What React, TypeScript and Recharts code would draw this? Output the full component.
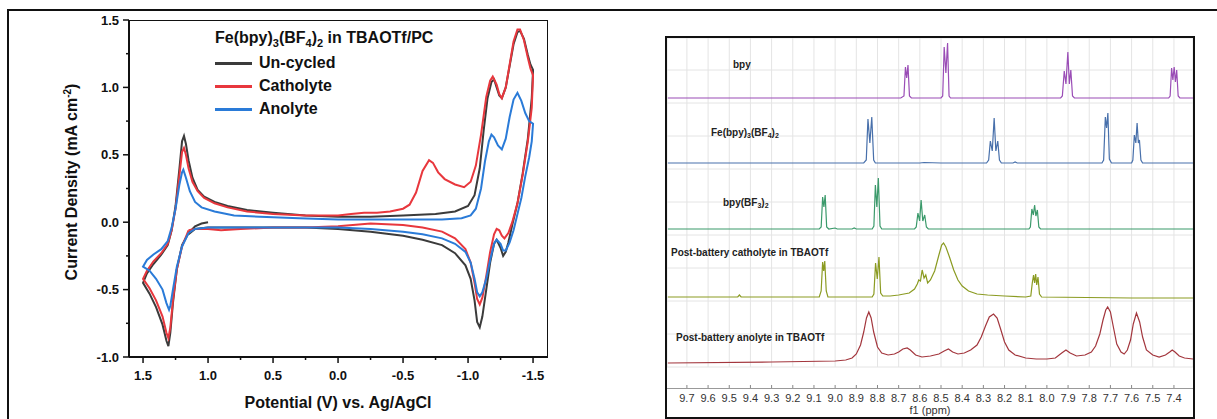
import { CartesianGrid, Line, LineChart, XAxis, YAxis } from "recharts";

type Pt = [number, number];

// cyclic voltammograms, [potential V, current density mA cm-2] in scan order
const uncycled: Pt[] = [
  [1.0, 0.0], [1.05, -0.01], [1.1, -0.03], [1.15, -0.08], [1.2, -0.17], [1.24, -0.35],
  [1.27, -0.6], [1.29, -0.82], [1.305, -0.92], [1.32, -0.88], [1.35, -0.76], [1.4, -0.63],
  [1.45, -0.53], [1.5, -0.45], [1.47, -0.38], [1.42, -0.31], [1.36, -0.24], [1.31, -0.17],
  [1.28, -0.06], [1.25, 0.12], [1.22, 0.4], [1.2, 0.6], [1.185, 0.64], [1.17, 0.58],
  [1.15, 0.46], [1.12, 0.33], [1.08, 0.24], [1.03, 0.19], [0.95, 0.15], [0.85, 0.12],
  [0.7, 0.09], [0.5, 0.07], [0.25, 0.05], [0.0, 0.04], [-0.25, 0.04], [-0.5, 0.05],
  [-0.75, 0.06], [-0.9, 0.08], [-1.0, 0.12], [-1.05, 0.2], [-1.09, 0.4], [-1.12, 0.68],
  [-1.15, 0.92], [-1.18, 1.04], [-1.2, 1.06], [-1.22, 1.0], [-1.24, 0.94], [-1.26, 0.92],
  [-1.29, 1.0], [-1.32, 1.16], [-1.35, 1.32], [-1.38, 1.41], [-1.4, 1.42], [-1.43, 1.36],
  [-1.46, 1.24], [-1.48, 1.17], [-1.5, 1.13], [-1.49, 0.92], [-1.46, 0.62], [-1.42, 0.36],
  [-1.38, 0.14], [-1.34, -0.02], [-1.31, -0.15], [-1.29, -0.22], [-1.27, -0.25],
  [-1.25, -0.19], [-1.22, -0.13], [-1.2, -0.16], [-1.17, -0.3], [-1.14, -0.5], [-1.11, -0.7],
  [-1.09, -0.78], [-1.07, -0.74], [-1.05, -0.58], [-1.02, -0.42], [-0.98, -0.32],
  [-0.9, -0.23], [-0.8, -0.17], [-0.65, -0.13], [-0.5, -0.1], [-0.25, -0.07], [0.0, -0.05],
  [0.25, -0.04], [0.5, -0.04], [0.75, -0.04], [1.0, -0.04], [1.1, -0.05], [1.15, -0.09]
];

const catholyte: Pt[] = [
  [1.15, -0.06], [1.2, -0.18], [1.24, -0.35], [1.27, -0.58], [1.29, -0.78], [1.305, -0.86],
  [1.32, -0.82], [1.35, -0.7], [1.4, -0.58], [1.45, -0.49], [1.5, -0.42], [1.47, -0.36],
  [1.42, -0.29], [1.36, -0.23], [1.31, -0.16], [1.28, -0.06], [1.25, 0.1], [1.22, 0.35],
  [1.2, 0.52], [1.185, 0.55], [1.17, 0.5], [1.15, 0.4], [1.12, 0.3], [1.08, 0.23],
  [1.03, 0.18], [0.95, 0.14], [0.85, 0.11], [0.7, 0.08], [0.5, 0.06], [0.25, 0.05],
  [0.0, 0.05], [-0.1, 0.06], [-0.2, 0.07], [-0.3, 0.07], [-0.4, 0.08], [-0.5, 0.1],
  [-0.55, 0.13], [-0.6, 0.22], [-0.65, 0.38], [-0.7, 0.46], [-0.73, 0.44], [-0.77, 0.37],
  [-0.82, 0.32], [-0.9, 0.28], [-0.97, 0.26], [-1.02, 0.3], [-1.06, 0.42], [-1.1, 0.65],
  [-1.14, 0.93], [-1.17, 1.05], [-1.19, 1.08], [-1.22, 1.02], [-1.24, 0.95], [-1.26, 0.92],
  [-1.29, 1.0], [-1.32, 1.17], [-1.35, 1.34], [-1.38, 1.43], [-1.4, 1.43], [-1.43, 1.35],
  [-1.46, 1.22], [-1.48, 1.14], [-1.5, 1.09], [-1.49, 0.85], [-1.46, 0.6], [-1.42, 0.35],
  [-1.38, 0.14], [-1.34, 0.0], [-1.31, -0.08], [-1.28, -0.12], [-1.26, -0.1],
  [-1.24, -0.06], [-1.22, -0.05], [-1.2, -0.09], [-1.17, -0.22], [-1.14, -0.4],
  [-1.11, -0.56], [-1.09, -0.61], [-1.07, -0.57], [-1.05, -0.45], [-1.02, -0.3],
  [-0.98, -0.2], [-0.9, -0.12], [-0.8, -0.07], [-0.65, -0.04], [-0.5, -0.02], [-0.25, -0.01],
  [0.0, -0.03], [0.25, -0.04], [0.5, -0.04], [0.75, -0.05], [0.9, -0.06], [1.0, -0.05],
  [1.1, -0.05], [1.15, -0.06]
];

const anolyte: Pt[] = [
  [1.15, -0.08], [1.2, -0.18], [1.24, -0.33], [1.27, -0.5], [1.29, -0.62], [1.3, -0.65],
  [1.32, -0.6], [1.35, -0.5], [1.4, -0.42], [1.45, -0.36], [1.5, -0.33], [1.47, -0.28],
  [1.42, -0.24], [1.36, -0.2], [1.31, -0.14], [1.28, -0.04], [1.25, 0.1], [1.22, 0.28],
  [1.2, 0.37], [1.19, 0.39], [1.17, 0.33], [1.14, 0.23], [1.1, 0.15], [1.05, 0.11],
  [0.95, 0.08], [0.8, 0.05], [0.6, 0.04], [0.3, 0.03], [0.0, 0.02], [-0.5, 0.02],
  [-0.8, 0.02], [-0.95, 0.03], [-1.02, 0.05], [-1.06, 0.1], [-1.1, 0.25], [-1.13, 0.45],
  [-1.16, 0.6], [-1.18, 0.65], [-1.2, 0.63], [-1.23, 0.57], [-1.26, 0.54], [-1.29, 0.62],
  [-1.32, 0.78], [-1.35, 0.91], [-1.38, 0.96], [-1.41, 0.9], [-1.44, 0.81], [-1.47, 0.75],
  [-1.5, 0.73], [-1.49, 0.6], [-1.47, 0.48], [-1.44, 0.34], [-1.41, 0.18], [-1.38, 0.06],
  [-1.35, -0.06], [-1.32, -0.15], [-1.29, -0.21], [-1.27, -0.21], [-1.25, -0.16],
  [-1.22, -0.13], [-1.2, -0.16], [-1.17, -0.28], [-1.14, -0.42], [-1.11, -0.52],
  [-1.09, -0.55], [-1.07, -0.52], [-1.05, -0.42], [-1.02, -0.3], [-0.98, -0.22],
  [-0.9, -0.16], [-0.8, -0.12], [-0.65, -0.09], [-0.5, -0.07], [-0.25, -0.05], [0.0, -0.04],
  [0.5, -0.04], [1.0, -0.04], [1.1, -0.05], [1.15, -0.08]
];

const potentialTicks = [1.5, 1.25, 1.0, 0.75, 0.5, 0.25, 0, -0.25, -0.5, -0.75, -1.0, -1.25, -1.5];
const currentTicks = [-1.0, -0.75, -0.5, -0.25, 0, 0.25, 0.5, 0.75, 1.0, 1.25, 1.5];

// 1H NMR traces, [ppm, intensity] left to right
const bpySpec: Pt[] = [
  [9.79, 0], [8.69, 0], [8.675, 2], [8.668, 31], [8.662, 20], [8.656, 33], [8.649, 2], [8.64, 0],
  [8.5, 0], [8.492, 2], [8.485, 51], [8.477, 25], [8.469, 55], [8.462, 2], [8.455, 0],
  [7.935, 0], [7.927, 2], [7.918, 27], [7.91, 14], [7.901, 46], [7.894, 14], [7.887, 28],
  [7.879, 2], [7.87, 0], [7.425, 0], [7.418, 2], [7.411, 30], [7.405, 18], [7.399, 31],
  [7.393, 16], [7.387, 28], [7.38, 2], [7.372, 0], [7.31, 0]
];

const feSpec: Pt[] = [
  [9.79, 0], [8.865, 0], [8.853, 3], [8.845, 44], [8.836, 20], [8.827, 46], [8.818, 3],
  [8.81, 0], [8.6, 0], [8.58, 0.5], [8.5, 0], [8.285, 0], [8.275, 3], [8.267, 22],
  [8.258, 12], [8.249, 45], [8.241, 12], [8.232, 22], [8.224, 3], [8.215, 0], [8.16, 0],
  [8.15, 1], [8.14, 0], [7.74, 0], [7.732, 3], [7.724, 46], [7.718, 35], [7.712, 50],
  [7.705, 4], [7.695, 0], [7.6, 0], [7.594, 3], [7.587, 28], [7.58, 20], [7.574, 40],
  [7.568, 20], [7.563, 23], [7.556, 3], [7.548, 0], [7.31, 0]
];

const bf3Spec: Pt[] = [
  [9.79, 0], [9.075, 0], [9.066, 2], [9.059, 32], [9.053, 22], [9.047, 34], [9.04, 2],
  [9.03, 0], [9.0, 1], [8.99, 0], [8.92, 0], [8.91, 1], [8.9, 0], [8.825, 0], [8.817, 3],
  [8.81, 44], [8.803, 22], [8.796, 51], [8.788, 3], [8.78, 0], [8.625, 0], [8.617, 2],
  [8.609, 16], [8.601, 8], [8.594, 29], [8.586, 8], [8.577, 14], [8.569, 2], [8.56, 0],
  [8.085, 0], [8.078, 2], [8.071, 20], [8.064, 14], [8.058, 24], [8.052, 13], [8.045, 19],
  [8.038, 2], [8.03, 0], [7.31, 0]
];

const catholyteSpec: Pt[] = [
  [9.79, 0], [9.46, 0], [9.452, 2], [9.444, 0], [9.075, 0], [9.066, 6], [9.059, 35],
  [9.054, 26], [9.049, 36], [9.042, 6], [9.034, 0], [8.825, 0], [8.817, 3], [8.809, 34],
  [8.801, 18], [8.793, 40], [8.785, 4], [8.775, 1], [8.74, 1], [8.7, 2], [8.65, 4],
  [8.625, 8], [8.612, 13], [8.605, 17], [8.597, 16], [8.589, 27], [8.58, 19], [8.572, 22],
  [8.563, 14], [8.55, 17], [8.53, 26], [8.51, 42], [8.497, 52], [8.488, 54], [8.477, 50],
  [8.46, 40], [8.44, 27], [8.42, 17], [8.4, 11], [8.37, 6], [8.33, 3], [8.28, 2], [8.2, 1],
  [8.1, 0], [8.076, 1], [8.069, 14], [8.063, 22], [8.058, 14], [8.053, 23], [8.048, 12],
  [8.042, 20], [8.035, 3], [8.025, 0], [7.6, -1], [7.31, -1]
];

const anolyteSpec: Pt[] = [
  [9.79, -1], [9.3, 0], [9.0, 1], [8.95, 2], [8.92, 4], [8.9, 8], [8.88, 17], [8.865, 30],
  [8.852, 44], [8.841, 50], [8.83, 44], [8.818, 30], [8.8, 15], [8.78, 9], [8.75, 7],
  [8.72, 8], [8.7, 10], [8.68, 13], [8.66, 14], [8.645, 12], [8.62, 7], [8.59, 5], [8.55, 6],
  [8.51, 8], [8.485, 11], [8.465, 13], [8.445, 10], [8.42, 8], [8.39, 9], [8.36, 12],
  [8.33, 17], [8.31, 25], [8.29, 36], [8.272, 45], [8.252, 48], [8.235, 44], [8.22, 34],
  [8.2, 20], [8.18, 12], [8.15, 7], [8.1, 4], [8.05, 3], [8.0, 3], [7.96, 4], [7.93, 9],
  [7.91, 12], [7.89, 9], [7.86, 6], [7.82, 7], [7.79, 10], [7.77, 16], [7.75, 28],
  [7.735, 42], [7.722, 52], [7.713, 55], [7.7, 50], [7.687, 36], [7.67, 18], [7.65, 10],
  [7.635, 8], [7.62, 12], [7.605, 22], [7.592, 38], [7.577, 49], [7.562, 40], [7.548, 25],
  [7.53, 12], [7.5, 7], [7.47, 5], [7.44, 7], [7.42, 10], [7.408, 12], [7.395, 10],
  [7.375, 6], [7.35, 4], [7.31, 3]
];

const ppmTicks = [
  9.7, 9.6, 9.5, 9.4, 9.3, 9.2, 9.1, 9.0, 8.9, 8.8, 8.7, 8.6, 8.5, 8.4, 8.3, 8.2, 8.1, 8.0,
  7.9, 7.8, 7.7, 7.6, 7.5, 7.4
];
const stackTicks = [0, 33, 66, 99, 132, 165, 198, 231, 264, 297];

const font = "Arial, 'Liberation Sans', sans-serif";

const cvSeries = [
  { name: "Un-cycled", color: "#3b3b3b", pts: uncycled },
  { name: "Catholyte", color: "#e8373d", pts: catholyte },
  { name: "Anolyte", color: "#2a7bd8", pts: anolyte }
];

// stacked traces: baseline offset within the panel
const nmrSeries = [
  { color: "#9a4db6", pts: bpySpec, offset: 269 },
  { color: "#4870ab", pts: feSpec, offset: 204 },
  { color: "#3b9a6b", pts: bf3Spec, offset: 138 },
  { color: "#8b9b22", pts: catholyteSpec, offset: 70 },
  { color: "#a3363d", pts: anolyteSpec, offset: 5 }
];

const isMajor = (v: number) => Math.abs(v * 2 - Math.round(v * 2)) < 1e-6;

function PotentialTick({ x, y, payload }: any) {
  const major = isMajor(payload.value);
  return (
    <g>
      <line x1={x} x2={x} y1={y} y2={y + (major ? 6 : 3)} stroke="#111" strokeWidth={1.5} />
      {major && (
        <text x={x} y={y + 18} textAnchor="middle" dominantBaseline="central"
          fontFamily={font} fontWeight="bold" fontSize={13} fill="#111">
          {payload.value.toFixed(1)}
        </text>
      )}
    </g>
  );
}

function CurrentTick({ x, y, payload }: any) {
  const major = isMajor(payload.value);
  return (
    <g>
      <line x1={x - (major ? 6 : 3)} x2={x} y1={y} y2={y} stroke="#111" strokeWidth={1.5} />
      {major && (
        <text x={x - 10} y={y} textAnchor="end" dominantBaseline="central"
          fontFamily={font} fontWeight="bold" fontSize={13} fill="#111">
          {payload.value.toFixed(1)}
        </text>
      )}
    </g>
  );
}

function PpmTick({ x, y, payload }: any) {
  return (
    <g>
      <line x1={x} x2={x} y1={y + 18} y2={y + 21} stroke="#888" />
      <text x={x} y={y + 31} textAnchor="middle" dominantBaseline="central"
        fontFamily={font} fontSize={11} fill="#333">
        {payload.value.toFixed(1)}
      </text>
    </g>
  );
}

const sub = { fontSize: 11, position: "relative", top: 4 } as const;
const subSmall = { fontSize: 7, position: "relative", top: 2 } as const;

function CvPanel() {
  return (
    <>
      <LineChart width={600} height={419} margin={{ top: 20, right: 52, bottom: 32, left: 89 }}
        style={{ position: "absolute", left: 0, top: 0 }}>
        <XAxis type="number" dataKey="v" domain={[-1.615, 1.608]} reversed ticks={potentialTicks}
          interval={0} height={30} tickSize={0} tickMargin={0} tickLine={false}
          axisLine={{ stroke: "#111", strokeWidth: 2 }} tick={(p: any) => <PotentialTick {...p} />} />
        <YAxis type="number" dataKey="i" domain={[-1, 1.5]} ticks={currentTicks} interval={0}
          width={40} tickSize={0} tickMargin={0} tickLine={false}
          axisLine={{ stroke: "#111", strokeWidth: 2 }} tick={(p: any) => <CurrentTick {...p} />} />
        {cvSeries.map((s) => (
          <Line key={s.name} data={s.pts.map(([v, i]) => ({ v, i }))} dataKey="i" type="linear"
            stroke={s.color} strokeWidth={2} dot={false} isAnimationActive={false} />
        ))}
      </LineChart>
      <div style={{ position: "absolute", left: 129, top: 20, width: 419, height: 337,
        borderTop: "1.5px solid #111", borderRight: "1.5px solid #111", boxSizing: "border-box",
        pointerEvents: "none" }} />
      <div style={{ position: "absolute", left: 215, top: 29, fontFamily: font, fontWeight: "bold",
        fontSize: 16, lineHeight: "18px", color: "#111", whiteSpace: "nowrap" }}>
        Fe(bpy)<span style={sub}>3</span>(BF<span style={sub}>4</span>)<span style={sub}>2</span> in TBAOTf/PC
      </div>
      {cvSeries.map((s, k) => (
        <div key={s.name} style={{ position: "absolute", left: 215, top: 54 + k * 23, height: 18,
          display: "flex", alignItems: "center", fontFamily: font, fontWeight: "bold", fontSize: 16,
          color: "#111", whiteSpace: "nowrap" }}>
          <span style={{ display: "inline-block", width: 37, height: 3, background: s.color,
            marginRight: 7 }} />
          {s.name}
        </div>
      ))}
      <div style={{ position: "absolute", left: 338, top: 393, transform: "translateX(-50%)",
        fontFamily: font, fontWeight: "bold", fontSize: 16, lineHeight: "20px", color: "#111",
        whiteSpace: "nowrap" }}>
        Potential (V) vs. Ag/AgCl
      </div>
      <div style={{ position: "absolute", left: 70, top: 182, transform: "translate(-50%, -50%) rotate(-90deg)",
        fontFamily: font, fontWeight: "bold", fontSize: 16, lineHeight: "20px", color: "#111",
        whiteSpace: "nowrap" }}>
        Current Density (mA cm<sup style={{ fontSize: 10 }}>-2</sup>)
      </div>
    </>
  );
}

function NmrPanel() {
  const labelStyle = { position: "absolute", fontFamily: font, fontWeight: "bold", fontSize: 10,
    lineHeight: "12px", color: "#222", whiteSpace: "nowrap" } as const;
  return (
    <>
      <LineChart width={526} height={379} margin={{ top: 0, right: 0, bottom: 0, left: 0 }}
        style={{ position: "absolute", left: 667, top: 38 }}>
        <CartesianGrid stroke="#e4e4e4" ticks={undefined} />
        <XAxis type="number" dataKey="x" domain={[7.31, 9.794]} reversed ticks={ppmTicks}
          interval={0} height={50} tickSize={0} tickMargin={0} tickLine={false} axisLine={false}
          tick={(p: any) => <PpmTick {...p} />} />
        <YAxis type="number" dataKey="y" domain={[0, 329]} ticks={stackTicks} hide />
        {nmrSeries.map((s, k) => (
          <Line key={k} data={s.pts.map(([x, h]) => ({ x, y: h + s.offset }))} dataKey="y"
            type="linear" stroke={s.color} strokeWidth={1.2} dot={false} isAnimationActive={false} />
        ))}
      </LineChart>
      <div style={{ position: "absolute", left: 667, top: 388, width: 526, height: 1, background: "#999" }} />
      <div style={{ position: "absolute", left: 930, top: 404, transform: "translateX(-50%)",
        fontFamily: font, fontSize: 11, lineHeight: "13px", color: "#333" }}>f1 (ppm)</div>
      <div style={{ ...labelStyle, left: 733, top: 59 }}>bpy</div>
      <div style={{ ...labelStyle, left: 711, top: 127 }}>
        Fe(bpy)<span style={subSmall}>3</span>(BF<span style={subSmall}>4</span>)<span style={subSmall}>2</span>
      </div>
      <div style={{ ...labelStyle, left: 723, top: 197 }}>
        bpy(BF<span style={subSmall}>3</span>)<span style={subSmall}>2</span>
      </div>
      <div style={{ ...labelStyle, left: 671, top: 247 }}>Post-battery catholyte in TBAOTf</div>
      <div style={{ ...labelStyle, left: 676, top: 332 }}>Post-battery anolyte in TBAOTf</div>
      <div style={{ position: "absolute", left: 665, top: 36, width: 530, height: 383,
        border: "2.5px solid #111", boxSizing: "border-box", pointerEvents: "none" }} />
    </>
  );
}

export default function App() {
  return (
    <div style={{ position: "fixed", left: 0, top: 0, width: 1217, height: 419, background: "#fff",
      overflow: "hidden" }}>
      <div style={{ position: "absolute", left: 7, top: 9, width: 1230, height: 430,
        borderTop: "2px solid #111", borderLeft: "2px solid #111" }} />
      <CvPanel />
      <NmrPanel />
    </div>
  );
}
